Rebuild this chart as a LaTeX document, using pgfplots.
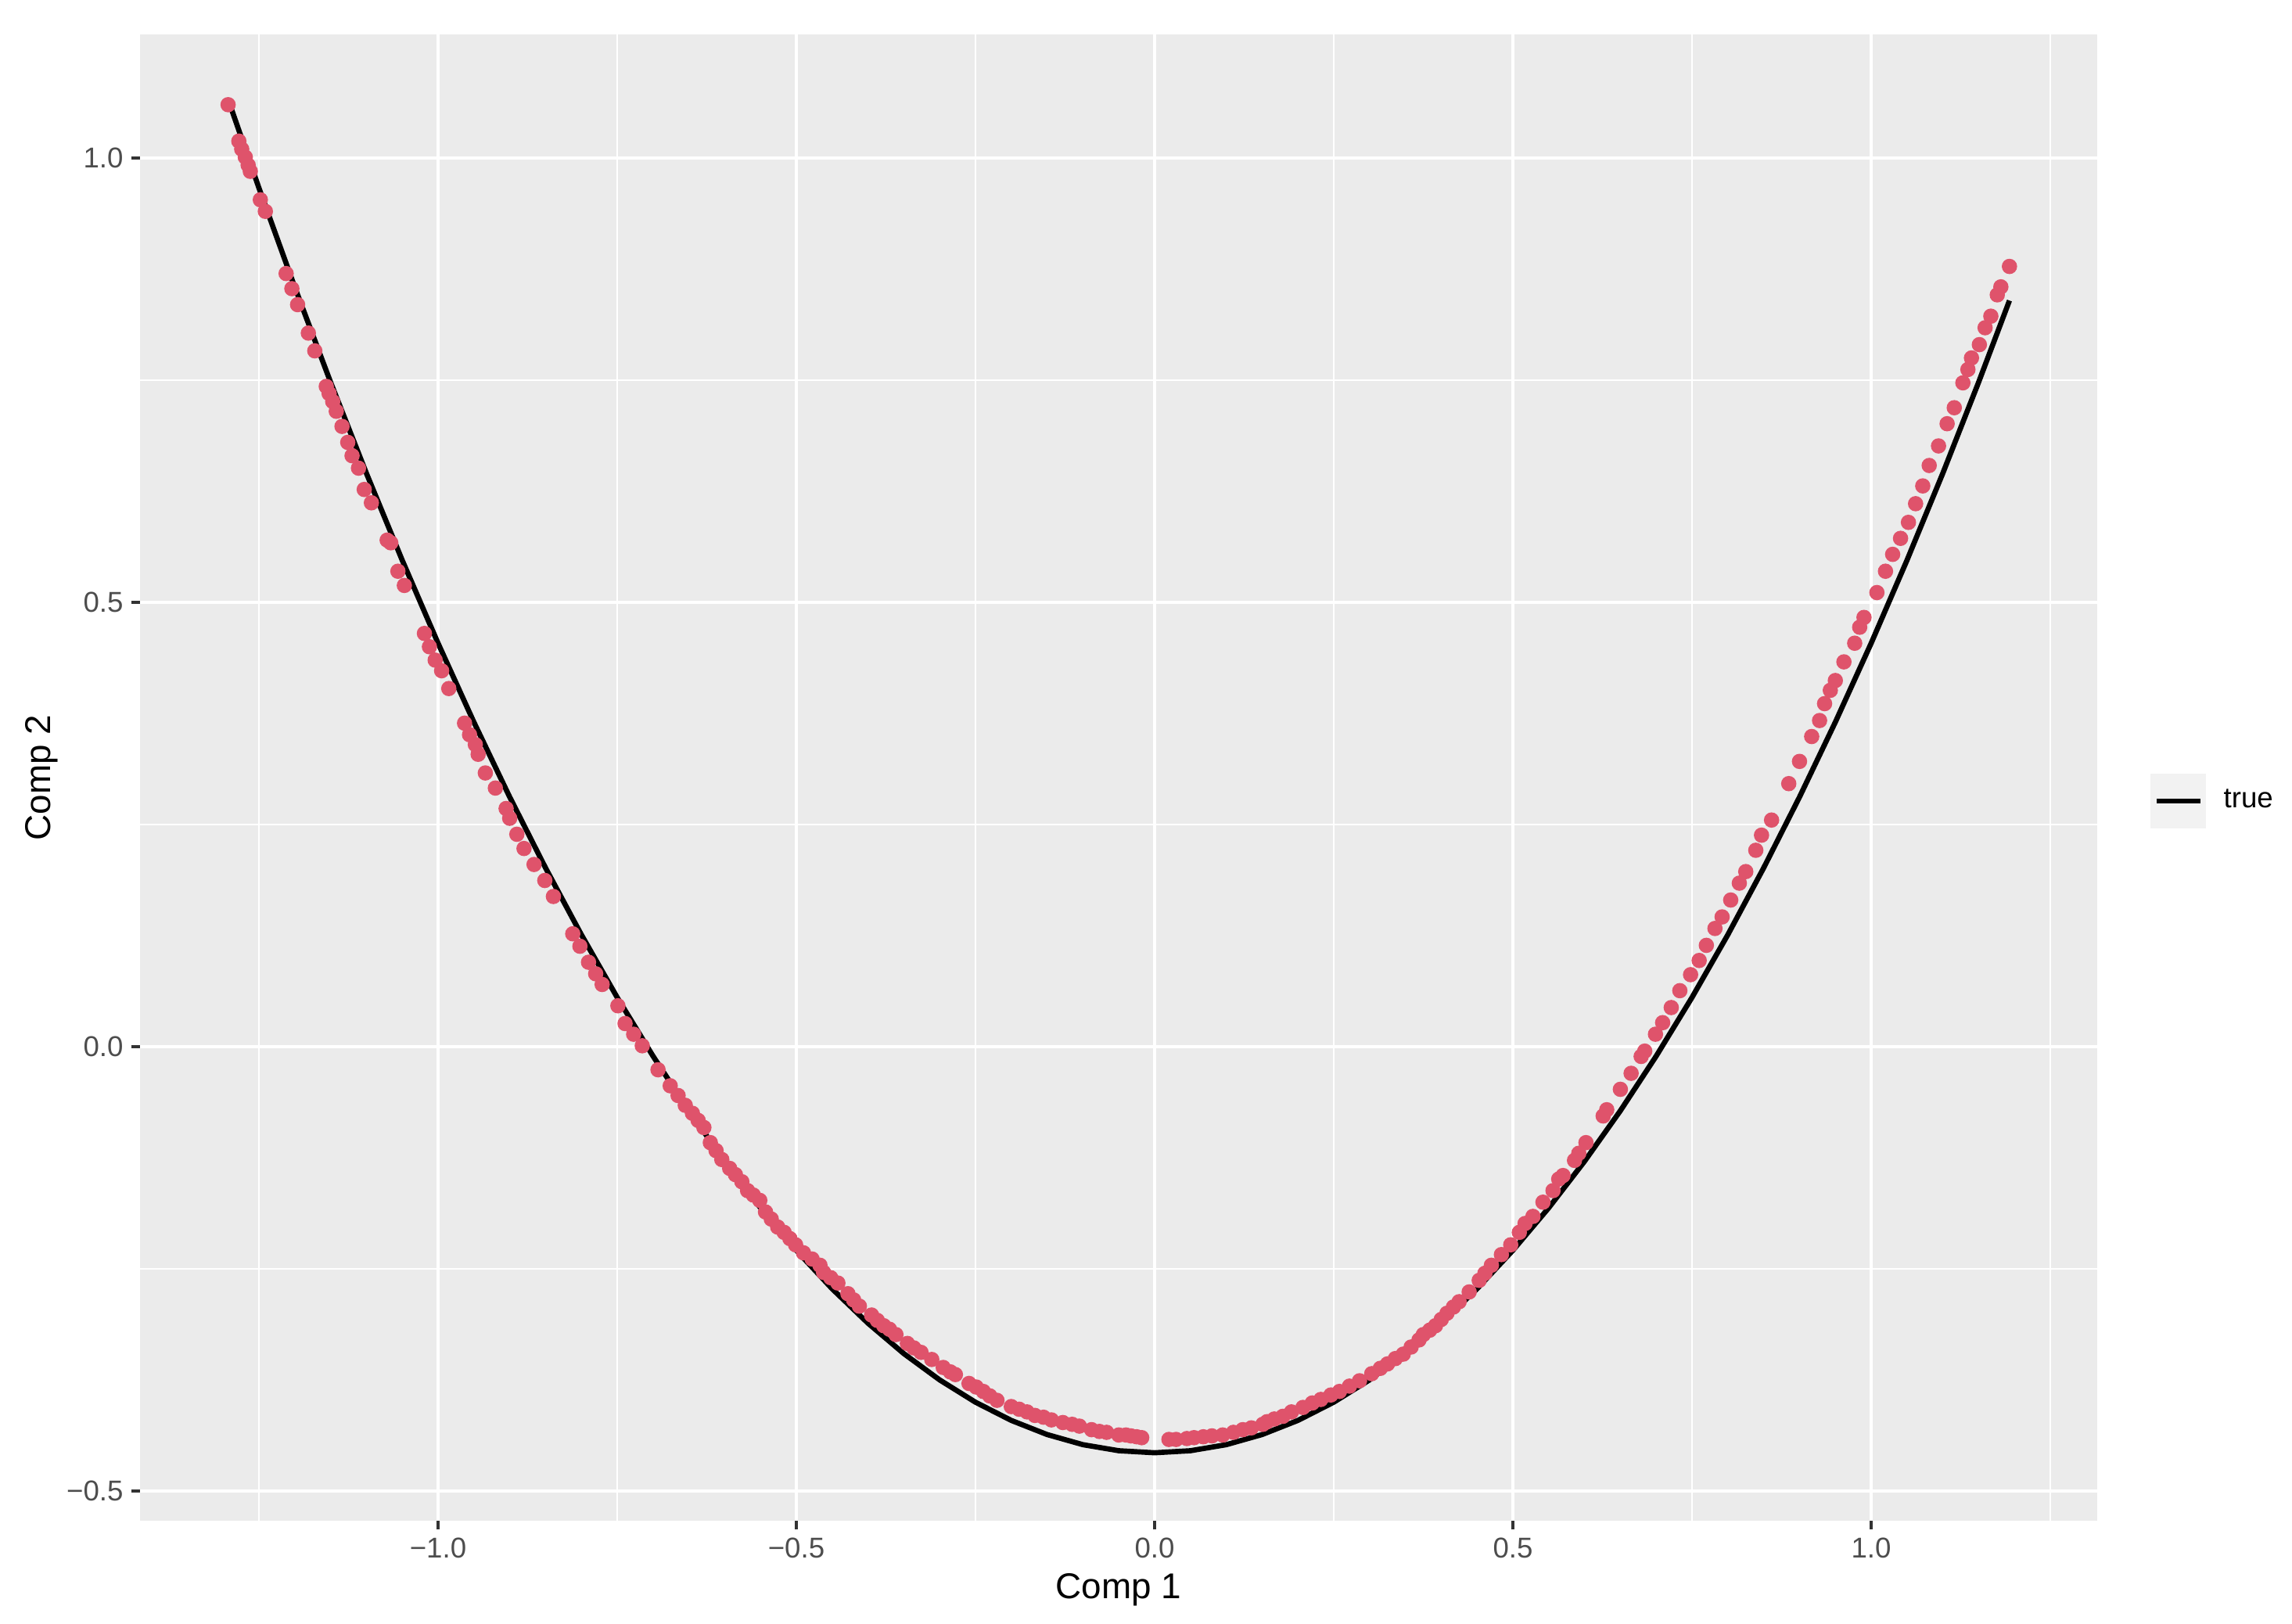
\documentclass[border=0pt]{standalone}
\usepackage{fontspec}
\setmainfont{Liberation Sans}
\usepackage{pgfplots}
\pgfplotsset{compat=1.18}
\definecolor{ptc}{HTML}{DF536B}
\definecolor{panelbg}{HTML}{EBEBEB}
\definecolor{keybg}{HTML}{F2F2F2}
\definecolor{tickc}{HTML}{333333}
\definecolor{labc}{HTML}{4D4D4D}
\begin{document}
\begin{tikzpicture}
\useasboundingbox (0,0) rectangle (703.2pt,498.2pt);
\begin{axis}[
  at={(42.96pt,31.64pt)}, anchor=south west,
  scale only axis, width=600.48pt, height=456pt,
  xmin=-1.4159, xmax=1.3155, ymin=-0.5335, ymax=1.1391,
  axis background/.style={fill=panelbg},
  axis line style={draw=none},
  xtick={-1,-0.5,0,0.5,1}, xticklabels={−1.0,−0.5,0.0,0.5,1.0},
  ytick={-0.5,0,0.5,1}, yticklabels={−0.5,0.0,0.5,1.0},
  minor xtick={-1.25,-0.75,-0.25,0.25,0.75,1.25},
  minor ytick={-0.25,0.25,0.75},
  grid=both,
  major grid style={white, line width=1.07pt},
  minor grid style={white, line width=0.53pt},
  tick align=outside, tick pos=left,
  major tick length=2.75pt, minor tick length=0pt,
  every tick/.style={color=tickc, line width=1.07pt},
  ticklabel style={font=\fontsize{8.8}{10}\selectfont, text=labc, inner sep=0pt},
  xticklabel style={anchor=north, yshift=-2.2pt},
  yticklabel style={anchor=east, xshift=-2.2pt},
  xlabel={Comp 1},
  xlabel style={at={(axis description cs:0.5,-0.03509)}, anchor=north, inner sep=0pt, font=\fontsize{11}{13}\selectfont},
  ylabel={Comp 2},
  ylabel style={at={(axis description cs:-0.04157,0.5)}, anchor=south, inner sep=0pt, font=\fontsize{11}{13}\selectfont},
  legend style={at={(1,0.4842)}, anchor=west, xshift=16.3pt, draw=none, fill=none, inner sep=0pt, outer sep=0pt,
    nodes={inner sep=0pt}, font=\fontsize{8.8}{10}\selectfont,
    /tikz/every odd column/.append style={column sep=5.5pt}},
  legend image code/.code={\fill[keybg, draw=none] (0pt,-8.5pt) rectangle (17pt,8.5pt);
    \draw[black, line width=1.6pt] (1.9pt,0pt) -- (15.4pt,0pt);},
]
\addplot[only marks, mark=*, mark size=2.15pt, color=ptc, mark options={draw=none, fill=ptc}, forget plot] table {
x y
-1.293 1.060
-1.278 1.019
-1.274 1.010
-1.269 1.001
-1.265 0.992
-1.262 0.985
-1.248 0.953
-1.241 0.940
-1.212 0.870
-1.204 0.853
-1.196 0.835
-1.181 0.803
-1.172 0.783
-1.156 0.743
-1.152 0.735
-1.147 0.726
-1.142 0.715
-1.134 0.698
-1.126 0.680
-1.120 0.665
-1.111 0.651
-1.103 0.627
-1.093 0.612
-1.071 0.570
-1.066 0.567
-1.056 0.535
-1.047 0.519
-1.019 0.465
-1.012 0.450
-1.004 0.435
-0.995 0.423
-0.985 0.403
-0.963 0.364
-0.956 0.351
-0.948 0.340
-0.944 0.329
-0.934 0.308
-0.920 0.291
-0.905 0.268
-0.900 0.257
-0.890 0.239
-0.880 0.223
-0.866 0.205
-0.851 0.187
-0.839 0.169
-0.812 0.127
-0.802 0.113
-0.790 0.095
-0.780 0.082
-0.771 0.070
-0.749 0.046
-0.739 0.026
-0.727 0.014
-0.715 0.001
-0.693 -0.026
-0.676 -0.044
-0.665 -0.055
-0.655 -0.066
-0.645 -0.075
-0.637 -0.083
-0.629 -0.091
-0.620 -0.108
-0.612 -0.117
-0.604 -0.127
-0.593 -0.137
-0.585 -0.144
-0.576 -0.152
-0.568 -0.162
-0.560 -0.167
-0.551 -0.173
-0.543 -0.186
-0.535 -0.194
-0.526 -0.203
-0.517 -0.209
-0.509 -0.216
-0.501 -0.223
-0.490 -0.232
-0.478 -0.239
-0.467 -0.246
-0.462 -0.254
-0.452 -0.260
-0.442 -0.266
-0.428 -0.278
-0.420 -0.285
-0.412 -0.292
-0.395 -0.302
-0.387 -0.308
-0.378 -0.314
-0.370 -0.318
-0.361 -0.324
-0.345 -0.334
-0.336 -0.339
-0.326 -0.344
-0.311 -0.352
-0.295 -0.361
-0.285 -0.366
-0.278 -0.369
-0.259 -0.379
-0.249 -0.383
-0.239 -0.388
-0.230 -0.393
-0.220 -0.398
-0.200 -0.405
-0.189 -0.408
-0.178 -0.411
-0.167 -0.415
-0.155 -0.417
-0.144 -0.420
-0.128 -0.423
-0.115 -0.425
-0.105 -0.427
-0.088 -0.431
-0.077 -0.433
-0.067 -0.434
-0.050 -0.437
-0.040 -0.437
-0.033 -0.438
-0.025 -0.439
-0.018 -0.440
0.020 -0.442
0.030 -0.442
0.045 -0.441
0.055 -0.440
0.068 -0.439
0.080 -0.438
0.095 -0.437
0.110 -0.434
0.123 -0.431
0.135 -0.429
0.151 -0.425
0.157 -0.422
0.167 -0.419
0.179 -0.416
0.191 -0.411
0.207 -0.406
0.220 -0.401
0.232 -0.397
0.246 -0.392
0.258 -0.388
0.272 -0.382
0.286 -0.376
0.303 -0.368
0.315 -0.362
0.325 -0.357
0.336 -0.351
0.347 -0.346
0.358 -0.338
0.369 -0.330
0.375 -0.324
0.384 -0.319
0.392 -0.314
0.400 -0.307
0.408 -0.300
0.417 -0.293
0.425 -0.287
0.439 -0.276
0.453 -0.263
0.461 -0.255
0.470 -0.246
0.484 -0.234
0.497 -0.223
0.509 -0.209
0.517 -0.199
0.528 -0.191
0.542 -0.175
0.556 -0.162
0.564 -0.149
0.570 -0.145
0.586 -0.128
0.592 -0.120
0.602 -0.108
0.626 -0.078
0.631 -0.071
0.650 -0.048
0.665 -0.030
0.679 -0.011
0.684 -0.005
0.699 0.014
0.709 0.027
0.721 0.044
0.733 0.063
0.748 0.081
0.760 0.097
0.770 0.114
0.782 0.133
0.792 0.146
0.804 0.165
0.816 0.184
0.825 0.197
0.839 0.221
0.847 0.238
0.861 0.255
0.885 0.296
0.900 0.321
0.917 0.349
0.928 0.367
0.935 0.386
0.943 0.401
0.950 0.412
0.962 0.433
0.977 0.454
0.984 0.472
0.990 0.483
1.008 0.511
1.020 0.535
1.030 0.554
1.041 0.572
1.052 0.590
1.062 0.611
1.072 0.631
1.081 0.654
1.094 0.676
1.106 0.701
1.116 0.719
1.128 0.747
1.135 0.762
1.140 0.775
1.151 0.790
1.159 0.809
1.167 0.822
1.176 0.846
1.181 0.855
1.193 0.878
};
\addplot[black, line width=1.6pt, line join=round] table {
x y
-1.2926 1.0651
-1.25 0.9664
-1.20 0.8548
-1.15 0.7478
-1.10 0.6453
-1.05 0.5474
-1.00 0.4540
-0.95 0.3652
-0.90 0.2809
-0.85 0.2012
-0.80 0.1260
-0.75 0.0554
-0.70 -0.0106
-0.65 -0.0721
-0.60 -0.1290
-0.55 -0.1814
-0.50 -0.2292
-0.45 -0.2725
-0.40 -0.3112
-0.35 -0.3454
-0.30 -0.3750
-0.25 -0.4001
-0.20 -0.4206
-0.15 -0.4365
-0.10 -0.4479
-0.05 -0.4547
0.00 -0.4570
0.05 -0.4547
0.10 -0.4479
0.15 -0.4365
0.20 -0.4206
0.25 -0.4001
0.30 -0.3750
0.35 -0.3454
0.40 -0.3112
0.45 -0.2725
0.50 -0.2292
0.55 -0.1814
0.60 -0.1290
0.65 -0.0721
0.70 -0.0106
0.75 0.0554
0.80 0.1260
0.85 0.2012
0.90 0.2809
0.95 0.3652
1.00 0.4540
1.05 0.5474
1.10 0.6453
1.15 0.7478
1.193 0.8396
};
\addlegendentry{true}
\end{axis}
\end{tikzpicture}
\end{document}
